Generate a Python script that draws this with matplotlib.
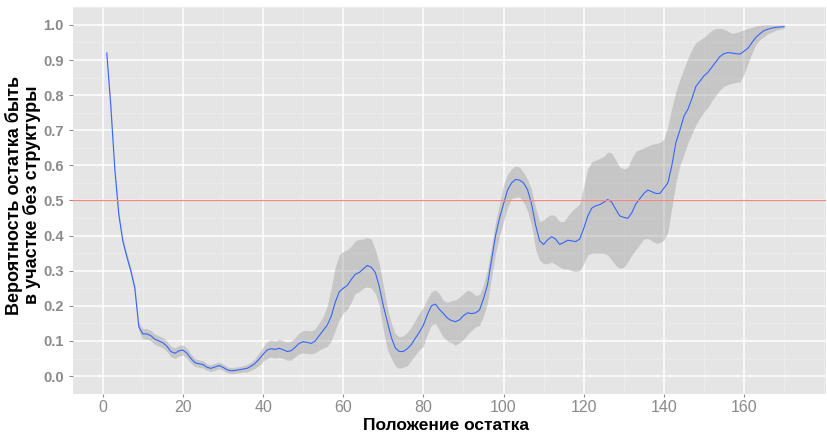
import numpy as np
import matplotlib
matplotlib.use("Agg")
import matplotlib.pyplot as plt
from matplotlib.ticker import MultipleLocator

# положение остатка
pos = list(range(1, 171))

# вероятность (среднее) и доверительный интервал
prob = [0.92, 0.77, 0.59, 0.46, 0.385, 0.34, 0.30, 0.25, 0.14, 0.12,
        0.12, 0.115, 0.105, 0.10, 0.095, 0.085, 0.07, 0.065, 0.072, 0.074,
        0.065, 0.05, 0.038, 0.035, 0.033, 0.025, 0.022, 0.026, 0.03, 0.025,
        0.018, 0.015, 0.016, 0.018, 0.02, 0.022, 0.028, 0.036, 0.048, 0.062,
        0.074, 0.078, 0.076, 0.079, 0.075, 0.07, 0.072, 0.082, 0.093, 0.098,
        0.096, 0.093, 0.10, 0.115, 0.13, 0.145, 0.17, 0.21, 0.24, 0.25,
        0.258, 0.275, 0.29, 0.295, 0.305, 0.315, 0.31, 0.295, 0.255, 0.20,
        0.155, 0.11, 0.08, 0.07, 0.07, 0.078, 0.09, 0.108, 0.125, 0.145,
        0.175, 0.20, 0.205, 0.19, 0.178, 0.165, 0.158, 0.155, 0.16, 0.172,
        0.18, 0.178, 0.18, 0.188, 0.22, 0.26, 0.33, 0.40, 0.45, 0.49,
        0.53, 0.55, 0.56, 0.558, 0.55, 0.53, 0.49, 0.43, 0.385, 0.375,
        0.388, 0.397, 0.39, 0.375, 0.38, 0.387, 0.385, 0.383, 0.39, 0.42,
        0.455, 0.478, 0.485, 0.488, 0.495, 0.503, 0.495, 0.475, 0.456, 0.452,
        0.449, 0.465, 0.49, 0.505, 0.52, 0.53, 0.525, 0.52, 0.52, 0.535,
        0.55, 0.60, 0.665, 0.70, 0.74, 0.76, 0.79, 0.825, 0.84, 0.855,
        0.865, 0.88, 0.895, 0.91, 0.918, 0.921, 0.92, 0.918, 0.917, 0.925,
        0.934, 0.95, 0.965, 0.975, 0.984, 0.988, 0.991, 0.993, 0.994, 0.995]

lower = [0.915, 0.76, 0.58, 0.45, 0.375, 0.33, 0.29, 0.24, 0.128, 0.105,
         0.105, 0.10, 0.09, 0.085, 0.08, 0.07, 0.055, 0.05, 0.057, 0.06,
         0.05, 0.037, 0.027, 0.025, 0.023, 0.016, 0.013, 0.017, 0.021, 0.016,
         0.01, 0.007, 0.008, 0.01, 0.011, 0.012, 0.016, 0.022, 0.03, 0.042,
         0.05, 0.054, 0.051, 0.054, 0.05, 0.045, 0.046, 0.055, 0.063, 0.066,
         0.064, 0.063, 0.066, 0.074, 0.08, 0.085, 0.10, 0.13, 0.16, 0.18,
         0.19, 0.21, 0.235, 0.24, 0.25, 0.254, 0.25, 0.235, 0.20, 0.13,
         0.075, 0.05, 0.028, 0.022, 0.025, 0.03, 0.045, 0.06, 0.075, 0.085,
         0.12, 0.145, 0.15, 0.13, 0.11, 0.10, 0.095, 0.088, 0.095, 0.105,
         0.118, 0.13, 0.14, 0.145, 0.17, 0.21, 0.28, 0.35, 0.40, 0.44,
         0.48, 0.505, 0.51, 0.51, 0.495, 0.47, 0.43, 0.36, 0.33, 0.32,
         0.32, 0.325, 0.318, 0.31, 0.305, 0.305, 0.30, 0.297, 0.30, 0.32,
         0.345, 0.35, 0.35, 0.35, 0.35, 0.345, 0.33, 0.315, 0.307, 0.31,
         0.325, 0.345, 0.36, 0.375, 0.39, 0.392, 0.385, 0.378, 0.38, 0.387,
         0.41, 0.48, 0.55, 0.60, 0.63, 0.665, 0.69, 0.715, 0.735, 0.752,
         0.765, 0.785, 0.80, 0.815, 0.825, 0.83, 0.834, 0.836, 0.838, 0.86,
         0.89, 0.92, 0.945, 0.958, 0.967, 0.975, 0.98, 0.985, 0.988, 0.99]

upper = [0.925, 0.78, 0.60, 0.47, 0.395, 0.35, 0.31, 0.26, 0.152, 0.135,
         0.135, 0.13, 0.12, 0.115, 0.11, 0.10, 0.085, 0.08, 0.087, 0.089,
         0.08, 0.063, 0.05, 0.046, 0.044, 0.035, 0.032, 0.036, 0.04, 0.035,
         0.027, 0.024, 0.025, 0.027, 0.03, 0.033, 0.04, 0.05, 0.066, 0.083,
         0.098, 0.103, 0.10, 0.105, 0.10, 0.097, 0.10, 0.11, 0.123, 0.13,
         0.13, 0.128, 0.135, 0.152, 0.17, 0.20, 0.25, 0.31, 0.345, 0.355,
         0.36, 0.37, 0.385, 0.39, 0.39, 0.395, 0.39, 0.36, 0.32, 0.26,
         0.195, 0.15, 0.12, 0.112, 0.115, 0.125, 0.14, 0.16, 0.18, 0.197,
         0.22, 0.24, 0.245, 0.235, 0.215, 0.21, 0.215, 0.217, 0.225, 0.235,
         0.245, 0.24, 0.23, 0.232, 0.26, 0.305, 0.37, 0.44, 0.49, 0.545,
         0.575, 0.59, 0.598, 0.595, 0.58, 0.56, 0.53, 0.48, 0.44, 0.445,
         0.455, 0.46, 0.455, 0.44, 0.44, 0.455, 0.47, 0.48, 0.49, 0.54,
         0.59, 0.61, 0.615, 0.62, 0.625, 0.638, 0.635, 0.615, 0.595, 0.59,
         0.595, 0.62, 0.64, 0.645, 0.65, 0.655, 0.66, 0.662, 0.665, 0.675,
         0.71, 0.765, 0.81, 0.845, 0.875, 0.905, 0.93, 0.95, 0.957, 0.965,
         0.975, 0.985, 0.99, 0.99, 0.988, 0.982, 0.976, 0.978, 0.982, 0.986,
         0.99, 0.993, 0.997, 0.999, 1.0, 1.0, 1.0, 1.0, 1.0, 1.0]

threshold = 0.5

font = ['Liberation Sans', 'DejaVu Sans']

fig = plt.figure(figsize=(8.28, 4.32), dpi=100)
ax = fig.add_axes([0.0878, 0.088, 0.91, 0.8958])
ax.set_facecolor('#E5E5E5')
for s in ax.spines.values():
    s.set_visible(False)

ax.xaxis.set_major_locator(MultipleLocator(20))
ax.xaxis.set_minor_locator(MultipleLocator(10))
ax.yaxis.set_major_locator(MultipleLocator(0.1))
ax.yaxis.set_minor_locator(MultipleLocator(0.05))
ax.grid(which='major', color='white', lw=1.1)
ax.grid(which='minor', color='#EEEEEE', lw=0.5)
ax.set_axisbelow(True)

ax.fill_between(pos, lower, upper, color='#999999', alpha=0.4, lw=0)
ax.plot(pos, prob, color='#3366FF', lw=0.8)
ax.axhline(threshold, color='#F08A80', lw=0.9)

ax.set_xlim(-7.5, 180.5)
ax.set_ylim(-0.051, 1.051)

ax.tick_params(which='major', length=3.0, width=0.8, color='#8C8C8C')
ax.tick_params(axis='x', length=2.5, pad=2.0)
ax.tick_params(which='minor', length=0)
ax.set_yticks(np.arange(0, 1.01, 0.1))
ax.set_yticklabels(['%.1f' % v for v in np.arange(0, 1.01, 0.1)],
                   family=font, fontweight='bold', fontsize=10.5, color='#8A8A8A')
ax.set_xticks(range(0, 161, 20))
ax.set_xticklabels([str(v) for v in range(0, 161, 20)],
                   family=font, fontsize=11.5, color='#8A8A8A')

# подписи осей
fig.text(446 / 828, 1 - 425 / 432, 'Положение остатка', family=font,
         fontweight='bold', fontsize=12.5, color='black', ha='center', va='center')
fig.text(23 / 828, 1 - 195 / 432, 'Вероятность остатка быть\nв участке без структуры',
         family=font, fontweight='bold', fontsize=13, color='black',
         ha='center', va='center', rotation=90, linespacing=1.0,
         multialignment='center')

fig.savefig('out.png', dpi=100)
